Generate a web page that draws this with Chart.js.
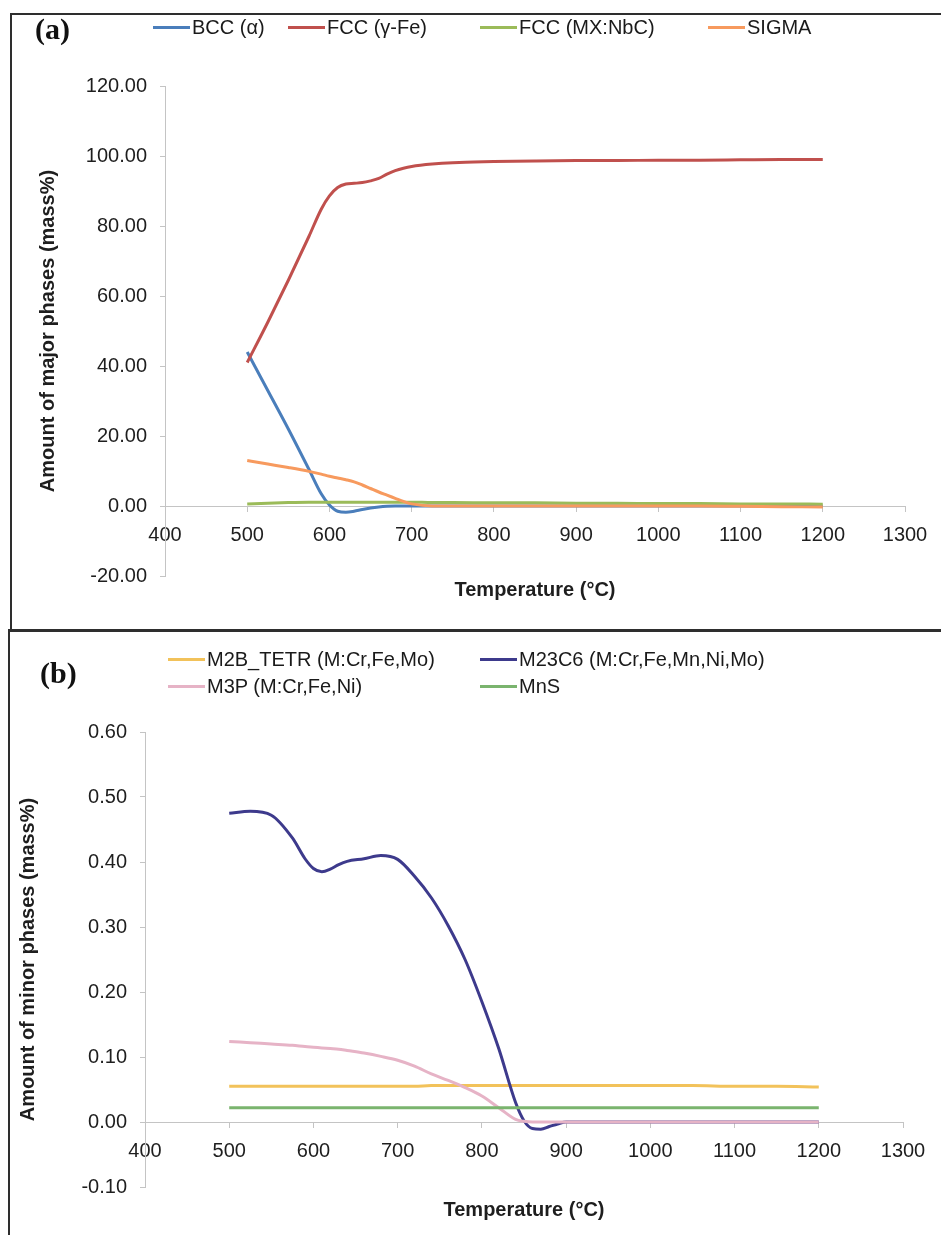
<!DOCTYPE html>
<html>
<head>
<meta charset="utf-8">
<script src="https://cdn.jsdelivr.net/npm/chart.js@4.4.1/dist/chart.umd.min.js"></script>
<style>
  body { margin: 0; background: #fff; font-family: "Liberation Sans", Arial, sans-serif; }
  #page { position: relative; width: 941px; height: 1235px; overflow: hidden; background: #fff; }
  .box { position: absolute; left: 0; width: 941px; }
  .rule { position: absolute; background: #2e2e2e; }
  .tag { position: absolute; font-family: "Liberation Serif", "Times New Roman", serif; font-weight: bold; font-size: 30px; color: #111; line-height: 1; }
  .legend { position: absolute; font-size: 20px; color: #1a1a1a; white-space: nowrap; }
  .item { position: absolute; display: flex; align-items: center; }
  .item i { display: inline-block; width: 37px; height: 3px; margin-right: 2px; }
</style>
</head>
<body>
<div id="page">
  <div class="box" style="top:0;height:630px"><canvas id="chartA"></canvas></div>
  <div class="box" style="top:630px;height:605px"><canvas id="chartB"></canvas></div>

  <div class="rule" style="left:10px;top:13px;width:931px;height:2px"></div>
  <div class="rule" style="left:10px;top:13px;width:2px;height:617px"></div>
  <div class="rule" style="left:8px;top:629px;width:933px;height:3px"></div>
  <div class="rule" style="left:8px;top:630px;width:2px;height:605px"></div>

  <div class="tag" style="left:35px;top:14px">(a)</div>
  <div class="tag" style="left:40px;top:658px">(b)</div>
  <div class="legend" id="legendA"></div>
  <div class="legend" id="legendB"></div>
</div>

<script>
// ---- data ----
var tempsA = [500,525,550,575,590,600,610,620,630,640,650,660,670,680,690,700,725,750,800,850,900,950,1000,1050,1100,1150,1200];
var bcc      = [44,33,22,10.5,3.5,0.3,-1.5,-1.8,-1.5,-1.0,-0.6,-0.3,-0.1,0,0,0,0,0,0,0,0,0,0,0,0,0,0];
var fccGamma = [41,52.5,64.5,77,84.8,88.6,91,92,92.2,92.4,92.9,93.6,94.8,95.8,96.5,97,97.7,98.1,98.4,98.6,98.7,98.7,98.8,98.8,98.9,99,99];
var fccNbC   = [0.6,0.8,1.0,1.1,1.1,1.1,1.1,1.1,1.1,1.1,1.1,1.1,1.1,1.1,1.1,1.1,1.0,1.0,0.9,0.9,0.8,0.8,0.7,0.7,0.6,0.6,0.5];
var sigma    = [13,12,11,9.9,9.1,8.5,8.0,7.5,6.9,6.0,5.0,4.0,3.1,2.2,1.3,0.6,0,0,0,0,0,0,0,0,-0.1,-0.2,-0.3];

var tempsB = [500,525,550,575,590,600,610,620,630,640,660,680,700,720,740,760,780,800,820,840,850,860,870,880,890,900,950,1000,1050,1100,1150,1200];
var m2bTetr = [0.055,0.055,0.055,0.055,0.055,0.055,0.055,0.055,0.055,0.055,0.055,0.055,0.055,0.055,0.056,0.056,0.056,0.056,0.056,0.056,0.056,0.056,0.056,0.056,0.056,0.056,0.056,0.056,0.056,0.055,0.055,0.054];
var m23c6   = [0.475,0.478,0.472,0.437,0.405,0.39,0.385,0.389,0.396,0.401,0.405,0.41,0.404,0.378,0.345,0.302,0.25,0.185,0.113,0.03,0.002,-0.01,-0.011,-0.007,-0.003,0,0,0,0,0,0,0];
var m3p     = [0.124,0.122,0.12,0.118,0.116,0.115,0.114,0.113,0.112,0.11,0.106,0.101,0.095,0.086,0.074,0.064,0.053,0.04,0.022,0.004,0.001,0,0,0,0,0,0,0,0,0,0,0];
var mns     = [0.022,0.022,0.022,0.022,0.022,0.022,0.022,0.022,0.022,0.022,0.022,0.022,0.022,0.022,0.022,0.022,0.022,0.022,0.022,0.022,0.022,0.022,0.022,0.022,0.022,0.022,0.022,0.022,0.022,0.022,0.022,0.022];

var namesA  = ['BCC (α)', 'FCC (γ-Fe)', 'FCC (MX:NbC)', 'SIGMA'];
var colorsA = ['#4a7ebb', '#c0504d', '#9bbb59', '#f79a5e'];
var namesB  = ['M2B_TETR (M:Cr,Fe,Mo)', 'M23C6 (M:Cr,Fe,Mn,Ni,Mo)', 'M3P (M:Cr,Fe,Ni)', 'MnS'];
var colorsB = ['#f2c25a', '#3d3a8c', '#e6b3c6', '#7ab46e'];

var xTicks = [400, 1300, 100];          // min, max, step
var yTicksA = [-20, 120, 20];
var yTicksB = [-0.1, 0.6, 0.1];

function pairs(xs, ys)
{
    var out = [];
    for (var i = 0; i < xs.length; i++) out.push({x: xs[i], y: ys[i]});
    return out;
}

function makeSets(xs, series, names, colors)
{
    return series.map(function(s, i)
    {
        return {
            label: names[i],
            data: pairs(xs, s),
            borderColor: colors[i],
            backgroundColor: colors[i],
            borderWidth: 3,
            pointRadius: 0,
            cubicInterpolationMode: 'monotone',
            order: series.length - i
        };
    });
}

function makeLegend(id, names, colors, spots)
{
    var box = document.getElementById(id);
    names.forEach(function(n, i)
    {
        var d = document.createElement('div');
        d.className = 'item';
        d.style.left = spots[i][0] + 'px';
        d.style.top = spots[i][1] + 'px';
        d.innerHTML = '<i style="background:' + colors[i] + '"></i><span></span>';
        d.querySelector('span').textContent = n;
        box.appendChild(d);
    });
}

var axisGrey = '#c4c4c4';
var txt = '#1e1e1e';

function options(yt, yTitle, yWidth, yTitlePad, pad, titlePad)
{
    return {
        responsive: true,
        maintainAspectRatio: false,
        animation: false,
        layout: { padding: pad },
        plugins: {
            legend: { display: false },
            tooltip: { enabled: false },
            title: {
                display: true,
                text: 'Temperature (°C)',
                position: 'bottom',
                fullSize: false,
                color: txt,
                font: { size: 20, weight: 'bold', family: 'Liberation Sans' },
                padding: { top: titlePad, bottom: 0 }
            }
        },
        scales: {
            x: {
                type: 'linear',
                min: xTicks[0], max: xTicks[1],
                position: { y: 0 },
                ticks: {
                    stepSize: xTicks[2], padding: 12, color: txt, maxRotation: 0,
                    font: { size: 20, family: 'Liberation Sans' },
                    callback: function(v) { return String(Math.round(v)); }
                },
                grid: { drawOnChartArea: false, tickLength: 5, color: axisGrey },
                border: { color: axisGrey, width: 1 },
                afterFit: function(s) { s.height = 0; }
            },
            y: {
                min: yt[0], max: yt[1],
                ticks: {
                    stepSize: yt[2], padding: 13, color: txt,
                    font: { size: 20, family: 'Liberation Sans' },
                    callback: function(v) { return Math.abs(v) < 1e-9 ? '0.00' : Number(v).toFixed(2); }
                },
                grid: { drawOnChartArea: false, tickLength: 5, color: axisGrey },
                border: { color: axisGrey, width: 1 },
                title: {
                    display: true, text: yTitle, color: txt,
                    font: { size: 20, weight: 'bold', family: 'Liberation Sans' },
                    padding: { top: yTitlePad, bottom: 0 }
                },
                afterFit: function(s) { s.width = yWidth; }
            }
        }
    };
}

new Chart(document.getElementById('chartA'),
{
    type: 'line',
    data: { datasets: makeSets(tempsA, [bcc, fccGamma, fccNbC, sigma], namesA, colorsA) },
    options: options(yTicksA, 'Amount of major phases (mass%)', 165, 36,
                     { top: 86, right: 36, left: 0, bottom: 28 }, 2)
});

new Chart(document.getElementById('chartB'),
{
    type: 'line',
    data: { datasets: makeSets(tempsB, [m2bTetr, m23c6, m3p, mns], namesB, colorsB) },
    options: options(yTicksB, 'Amount of minor phases (mass%)', 145, 16,
                     { top: 102, right: 38, left: 0, bottom: 13 }, 11)
});

makeLegend('legendA', namesA, colorsA, [[153, 16], [288, 16], [480, 16], [708, 16]]);
makeLegend('legendB', namesB, colorsB, [[168, 648], [480, 648], [168, 675], [480, 675]]);
</script>
</body>
</html>
